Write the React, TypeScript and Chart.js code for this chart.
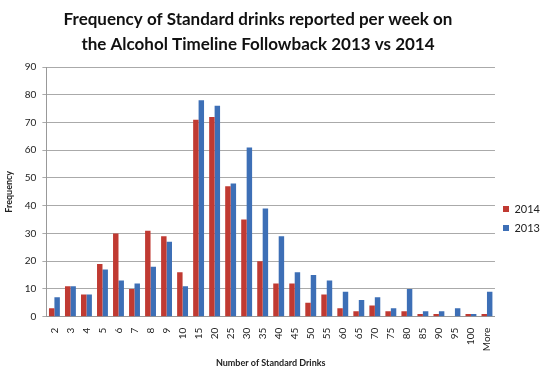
import React, { useEffect, useRef } from "react";
import { Chart, registerables } from "chart.js";

Chart.register(...registerables);

const categories = ["2","3","4","5","6","7","8","9","10","15","20","25","30","35","40","45","50","55","60","65","70","75","80","85","90","95","100","More"];
const values2014 = [3,11,8,19,30,10,31,29,16,71,72,47,35,20,12,12,5,8,3,2,4,2,2,1,1,0,1,1];
const values2013 = [7,11,8,17,13,12,18,27,11,78,76,48,61,39,29,16,15,13,9,6,7,3,10,2,2,3,1,9];
const titleLines = ["Frequency of Standard drinks reported per week on", "the Alcohol Timeline Followback 2013 vs 2014"];

const titlePlugin = {
  id: "customTitle",
  afterDraw(chart: any) {
    const ctx = chart.ctx;
    ctx.save();
    ctx.font = "bold 17px Lato";
    ctx.fillStyle = "#111";
    ctx.textAlign = "center";
    ctx.textBaseline = "middle";
    titleLines.forEach((line, i) => ctx.fillText(line, 258, 20 + i * 25));
    ctx.restore();
  },
};

export default function App() {
  const ref = useRef<HTMLCanvasElement | null>(null);
  useEffect(() => {
    document.body.style.margin = "0";
    const ctx = ref.current!;
    const chart = new Chart(ctx, {
      type: "bar",
      data: {
        labels: categories,
        datasets: [
          { label: "2014", data: values2014, backgroundColor: "#C03A32", categoryPercentage: 0.68, barPercentage: 1 },
          { label: "2013", data: values2013, backgroundColor: "#3D6FB6", categoryPercentage: 0.68, barPercentage: 1 },
        ],
      },
      plugins: [titlePlugin],
      options: {
        animation: false,
        responsive: false,
        maintainAspectRatio: false,
        layout: { padding: { left: 0, right: 0, top: 67, bottom: 0 } },
        plugins: {
          title: { display: false },
          legend: {
            position: "right",
            labels: { boxWidth: 6, boxHeight: 6, font: { family: "Lato", size: 11 }, color: "#222", padding: 8 },
          },
          tooltip: { enabled: false },
        },
        scales: {
          x: {
            grid: { display: false },
            border: { color: "#999" },
            ticks: { maxRotation: 90, minRotation: 90, autoSkip: false, font: { family: "Lato", size: 10 }, color: "#222" },
            title: { display: true, text: "Number of Standard Drinks", font: { family: "Lato", size: 9, weight: "bold" }, color: "#222", padding: { top: 3, bottom: 2 } },
          },
          y: {
            min: 0, max: 90,
            ticks: { stepSize: 10, font: { family: "Lato", size: 10 }, color: "#222", padding: 6 },
            grid: { color: "#aaa", tickLength: 4 },
            border: { color: "#999" },
            title: { display: true, text: "Frequency", font: { family: "Lato", size: 9, weight: "bold" }, color: "#222" },
          },
        },
      },
    });
    return () => chart.destroy();
  }, []);
  return (
    <div style={{ width: 550, height: 370, background: "#fff" }}>
      <canvas ref={ref} width={550} height={370} />
    </div>
  );
}
